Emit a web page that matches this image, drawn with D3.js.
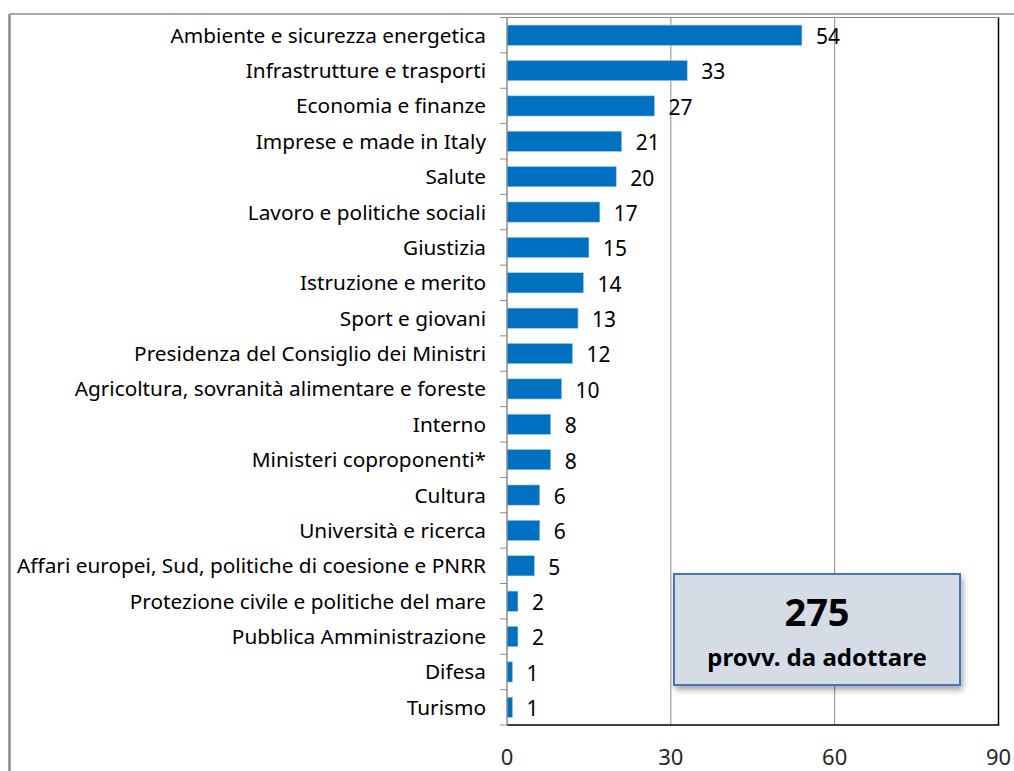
<!DOCTYPE html>
<html>
<head>
<meta charset="utf-8">
<script src="https://cdn.jsdelivr.net/npm/d3@7"></script>
<style>
  body { margin: 0; background: #fff; }
  text { font-family: "Noto Sans", "Open Sans", sans-serif; }
</style>
</head>
<body>
<div id="chart"></div>
<script>
// Ministries and number of measures still to adopt
var categories = [
  "Ambiente e sicurezza energetica",
  "Infrastrutture e trasporti",
  "Economia e finanze",
  "Imprese e made in Italy",
  "Salute",
  "Lavoro e politiche sociali",
  "Giustizia",
  "Istruzione e merito",
  "Sport e giovani",
  "Presidenza del Consiglio dei Ministri",
  "Agricoltura, sovranità alimentare e foreste",
  "Interno",
  "Ministeri coproponenti*",
  "Cultura",
  "Università e ricerca",
  "Affari europei, Sud, politiche di coesione e PNRR",
  "Protezione civile e politiche del mare",
  "Pubblica Amministrazione",
  "Difesa",
  "Turismo"
];
var values = [54, 33, 27, 21, 20, 17, 15, 14, 13, 12, 10, 8, 8, 6, 6, 5, 2, 2, 1, 1];
var xTicks = [0, 30, 60, 90];
var totalLabel = "275";
var totalSub = "provv. da adottare";

var width = 1014, height = 771;
var plotLeft = 507, plotRight = 998.5, plotTop = 17.5, plotBottom = 725;

var svg = d3.select("#chart").append("svg").attr("width", width).attr("height", height);

// shadow for the note box
var defs = svg.append("defs");
var f = defs.append("filter").attr("id", "shadow").attr("x", "-10%").attr("y", "-10%").attr("width", "130%").attr("height", "140%");
f.append("feDropShadow").attr("dx", 2).attr("dy", 4).attr("stdDeviation", 3).attr("flood-color", "#000").attr("flood-opacity", 0.35);

// outer frame (left and top only visible)
svg.append("line").attr("x1", 9.5).attr("x2", width).attr("y1", 14).attr("y2", 14).attr("stroke", "#8c8c8c").attr("stroke-width", 1.5);
svg.append("line").attr("x1", 9.5).attr("x2", 9.5).attr("y1", 14).attr("y2", height).attr("stroke", "#8c8c8c").attr("stroke-width", 2.5);

var x = d3.scaleLinear().domain([0, 90]).range([plotLeft, plotRight]);
var y = d3.scaleBand().domain(categories).range([plotTop, plotBottom]).paddingInner(0.43).paddingOuter(0.215);

// gridlines
svg.selectAll(".grid").data(xTicks).enter().append("line")
  .attr("x1", d => x(d)).attr("x2", d => x(d))
  .attr("y1", plotTop).attr("y2", plotBottom)
  .attr("stroke", d => d === 90 ? "#000" : "#8c8c8c")
  .attr("stroke-width", d => d === 90 ? 1.5 : 1);

// plot top
svg.append("line").attr("x1", plotLeft).attr("x2", plotRight).attr("y1", plotTop).attr("y2", plotTop).attr("stroke", "#8c8c8c");
// bottom
svg.append("line").attr("x1", plotLeft).attr("x2", plotRight + 0.75).attr("y1", plotBottom).attr("y2", plotBottom).attr("stroke", "#000").attr("stroke-width", 1.5);

// y axis ticks at category boundaries
var step = (plotBottom - plotTop) / categories.length;
var bounds = d3.range(categories.length + 1).map(i => plotTop + i * step);
svg.selectAll(".ytick").data(bounds).enter().append("line")
  .attr("x1", plotLeft - 7).attr("x2", plotLeft).attr("y1", d => d).attr("y2", d => d)
  .attr("stroke", "#8c8c8c");

// bars
svg.selectAll(".bar").data(values).enter().append("rect")
  .attr("x", x(0))
  .attr("y", (d, i) => y(categories[i]))
  .attr("width", d => x(d) - x(0))
  .attr("height", y.bandwidth())
  .attr("fill", "#0070C0")
  .attr("stroke", "#9DC3E6").attr("stroke-width", 0.6);

// left axis line
svg.append("line").attr("x1", plotLeft).attr("x2", plotLeft).attr("y1", plotTop).attr("y2", plotBottom).attr("stroke", "#8c8c8c");

// category labels
svg.selectAll(".cat").data(categories).enter().append("text")
  .attr("x", plotLeft - 21)
  .attr("y", d => y(d) + y.bandwidth() / 2)
  .attr("dy", "0.36em")
  .attr("text-anchor", "end")
  .attr("font-size", 20.8)
  .attr("fill", "#000")
  .text(d => d);

// value labels
svg.selectAll(".val").data(values).enter().append("text")
  .attr("x", d => x(d) + 14)
  .attr("y", (d, i) => y(categories[i]) + y.bandwidth() / 2)
  .attr("dy", "0.42em")
  .attr("font-size", 21)
  .attr("fill", "#000")
  .text(d => d);

// x tick labels
svg.selectAll(".xt").data(xTicks).enter().append("text")
  .attr("x", d => x(d))
  .attr("y", 757)
  .attr("dy", "0.36em")
  .attr("text-anchor", "middle")
  .attr("font-size", 22)
  .attr("fill", "#262626")
  .text(d => d);

// note box
var bx = 674, by = 574, bw = 286, bh = 111;
svg.append("rect").attr("x", bx).attr("y", by).attr("width", bw).attr("height", bh)
  .attr("fill", "#D6DCE5").attr("stroke", "#4472C4").attr("stroke-width", 2)
  .attr("filter", "url(#shadow)");
svg.append("text").attr("x", bx + bw / 2).attr("y", 612).attr("dy", "0.36em")
  .attr("text-anchor", "middle").attr("font-size", 38).attr("font-weight", "bold").text(totalLabel);
svg.append("text").attr("x", bx + bw / 2).attr("y", 657).attr("dy", "0.36em")
  .attr("text-anchor", "middle").attr("font-size", 24).attr("font-weight", "bold").text(totalSub);
</script>
</body>
</html>
